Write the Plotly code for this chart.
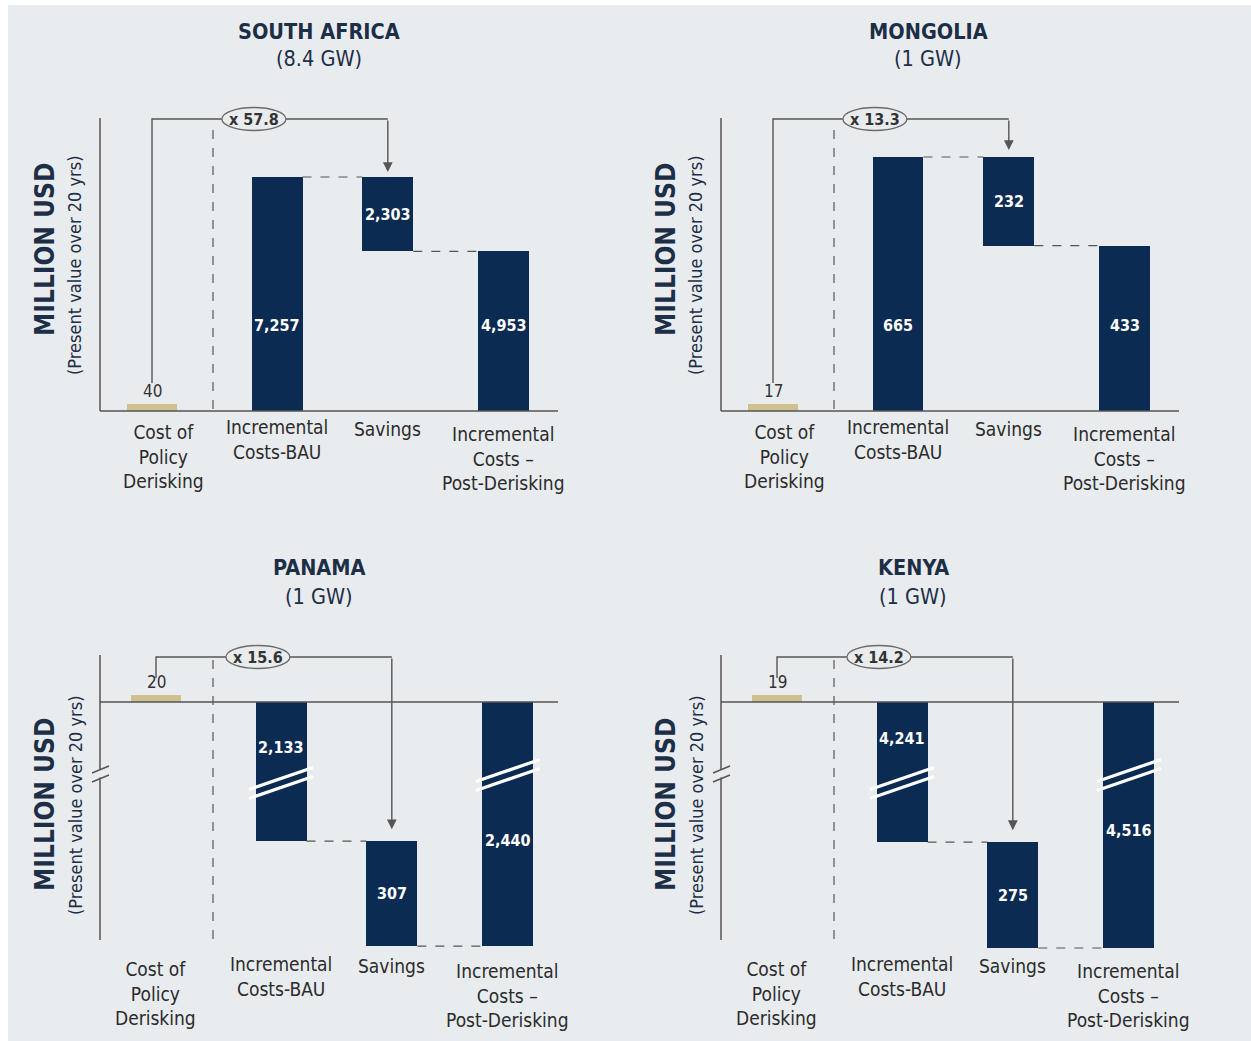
import plotly.graph_objects as go

# ---------------- data ----------------
countries = ["SOUTH AFRICA", "MONGOLIA", "PANAMA", "KENYA"]
capacities = ["(8.4 GW)", "(1 GW)", "(1 GW)", "(1 GW)"]
categories = ["Cost of<br>Policy<br>Derisking", "Incremental<br>Costs-BAU", "Savings",
              "Incremental<br>Costs –<br>Post-Derisking"]
cost_derisking = [40, 17, 20, 19]
incr_costs_bau = [7257, 665, -2133, -4241]
savings = [2303, 232, 307, 275]
incr_costs_post = [4953, 433, -2440, -4516]
multipliers = ["x 57.8", "x 13.3", "x 15.6", "x 14.2"]
axis_break = [0, 0, 1726, 3877]   # value span omitted by the broken y axis

# ---------------- style / geometry ----------------
W, H = 1251, 1041
NAVY = "#0c2b52"
TAN = "#cfc08f"
BG = "#e9ecef"
LINE = "#555555"
TXT = "#2b2b2b"
TITLE = "#1d2e47"
FONT = "Liberation Sans Narrow, Arial Narrow, DejaVu Sans Condensed, sans-serif"

UNIT = 118.5                      # px per slot unit
slot = [0, 1.055, 1.99, 2.97]     # slot positions of the 4 categories
BW = 0.43                         # bar width (slot units)


def pxx(px):
    return px / W


def pxy(py):
    return 1 - py / H


geo = [
    dict(c0=152, ax0=100, zero=411, u=7257 / 234, dom=(100, 432), axis=(118, 411), line=119,
         start=383, tx=319, ty=(32, 59), lab=(325, 325), sep=(130, 411), cat=414, cshift=11,
         ytitle=250, ysub=265, stand=5),
    dict(c0=773, ax0=721, zero=411, u=665 / 254, dom=(100, 432), axis=(118, 411), line=119,
         start=383, tx=928, ty=(32, 59), lab=(325, 325), sep=(130, 411), cat=414, cshift=11,
         ytitle=250, ysub=265, stand=7),
    dict(c0=156, ax0=100, zero=702, u=1 / 0.342, dom=(640, 962), axis=(655, 940), line=657,
         start=678, tx=319, ty=(567, 596), lab=(747, 840), sep=(660, 940), cat=951, cshift=-1,
         ytitle=805, ysub=805, stand=12),
    dict(c0=777, ax0=721, zero=702, u=1 / 0.385, dom=(640, 962), axis=(655, 940), line=657,
         start=678, tx=913, ty=(567, 596), lab=(738, 830), sep=(660, 940), cat=951, cshift=-1,
         ytitle=805, ysub=805, stand=12),
]
cat_offsets = [5, 0, 2, 7]

fig = go.Figure()
shapes = []
annotations = []
layout_axes = {}

# page background panel
shapes.append(dict(type="rect", xref="paper", yref="paper", x0=pxx(8), x1=1, y0=0, y1=pxy(5),
                   fillcolor=BG, line=dict(width=0), layer="below"))


def paper_text(x, y, text, size, color, angle=0):
    annotations.append(dict(x=pxx(x), y=pxy(y), xref="paper", yref="paper", xanchor="center",
                            yanchor="middle", text=text, textangle=angle, showarrow=False,
                            font=dict(family=FONT, size=size, color=color)))


for i in range(4):
    g = geo[i]
    n = i + 1
    xa = "x" if n == 1 else f"x{n}"
    ya = "y" if n == 1 else f"y{n}"
    ys = f"y{n + 4}"
    cut = axis_break[i]
    u = g["u"]

    def disp(v, cut=cut):
        if cut == 0:
            return v
        return (abs(v) - cut) * (1 if v > 0 else -1)

    def ydat(py, g=g, u=u):
        return (g["zero"] - py) * u

    bau_d = disp(incr_costs_bau[i])
    post_d = disp(incr_costs_post[i])

    # main bars
    fig.add_trace(go.Bar(
        x=[slot[1], slot[2], slot[3]],
        y=[bau_d, post_d - bau_d, post_d],
        base=[0, bau_d, 0],
        width=BW, marker=dict(color=NAVY, line=dict(width=0)),
        xaxis=xa, yaxis=ya, showlegend=False, hoverinfo="skip"))
    # cost of derisking bar on its own (magnified) scale
    fig.add_trace(go.Bar(
        x=[slot[0]], y=[cost_derisking[i]], width=BW,
        marker=dict(color=TAN, line=dict(width=0)),
        xaxis=xa, yaxis=ys, showlegend=False, hoverinfo="skip"))

    # arrow path
    fig.add_trace(go.Scatter(
        x=[slot[0], slot[0], slot[2]],
        y=[ydat(g["start"]), ydat(g["line"]), ydat(g["line"])],
        mode="lines", line=dict(color=LINE, width=1.4),
        xaxis=xa, yaxis=ya, showlegend=False, hoverinfo="skip"))

    # axes
    d0, d1 = g["dom"]
    layout_axes["xaxis" if n == 1 else f"xaxis{n}"] = dict(
        domain=[pxx(g["c0"] - 62), pxx(g["c0"] + 420)], range=[-62 / UNIT, 420 / UNIT],
        visible=False, anchor=ya, fixedrange=True)
    layout_axes["yaxis" if n == 1 else f"yaxis{n}"] = dict(
        domain=[pxy(d1), pxy(d0)], range=[ydat(d1), ydat(d0)],
        visible=False, anchor=xa, fixedrange=True)
    u2 = cost_derisking[i] / 7.5
    layout_axes[f"yaxis{n + 4}"] = dict(
        overlaying=ya, range=[(g["zero"] - d1) * u2, (g["zero"] - d0) * u2],
        visible=False, anchor=xa, fixedrange=True)

    # axis lines
    a0, a1 = g["axis"]
    if cut == 0:
        shapes.append(dict(type="line", xref="paper", yref="paper", x0=pxx(g["ax0"]), x1=pxx(g["ax0"]),
                           y0=pxy(a0), y1=pxy(a1), line=dict(color=LINE, width=1.5)))
    else:
        shapes.append(dict(type="line", xref="paper", yref="paper", x0=pxx(g["ax0"]), x1=pxx(g["ax0"]),
                           y0=pxy(a0), y1=pxy(769.5), line=dict(color=LINE, width=1.5)))
        shapes.append(dict(type="line", xref="paper", yref="paper", x0=pxx(g["ax0"]), x1=pxx(g["ax0"]),
                           y0=pxy(777.5), y1=pxy(a1), line=dict(color=LINE, width=1.5)))
        for off in (0, 9):
            shapes.append(dict(type="line", xref="paper", yref="paper",
                               x0=pxx(g["ax0"] - 8), x1=pxx(g["ax0"] + 9),
                               y0=pxy(773 + off), y1=pxy(766 + off), line=dict(color=LINE, width=1.5)))
        # break slashes across the long bars
        for k, cy in ((1, 783), (3, 775)):
            cx = g["c0"] + slot[k] * UNIT
            for off in (-4.5, 4.5):
                shapes.append(dict(type="line", xref="paper", yref="paper",
                                   x0=pxx(cx - 32), x1=pxx(cx + 32),
                                   y0=pxy(cy + 11 + off), y1=pxy(cy - 11 + off),
                                   line=dict(color="white", width=3.2), layer="above"))
    shapes.append(dict(type="line", xref="paper", yref="paper", x0=pxx(g["ax0"]), x1=pxx(g["ax0"] + 458),
                       y0=pxy(g["zero"]), y1=pxy(g["zero"]), line=dict(color=LINE, width=1.5)))

    # dashed separator
    sx = g["ax0"] + 113
    shapes.append(dict(type="line", xref="paper", yref="paper", x0=pxx(sx), x1=pxx(sx),
                       y0=pxy(g["sep"][0]), y1=pxy(g["sep"][1]),
                       line=dict(color=LINE, width=1.2, dash="dash")))

    # dashed connectors between bars
    for yv, xl, xr in ((bau_d, slot[1] + BW / 2, slot[2] - BW / 2),
                       (post_d, slot[2] + BW / 2, slot[3] - BW / 2)):
        shapes.append(dict(type="line", xref=xa, yref=ya, x0=xl, x1=xr, y0=yv, y1=yv,
                           line=dict(color=LINE, width=1.2, dash="dash")))

    # oval with multiplier
    shapes.append(dict(type="circle", xref=xa, yref=ya, xsizemode="pixel", ysizemode="pixel",
                       xanchor=0.86, yanchor=ydat(g["line"]), x0=-32, x1=32, y0=-11.5, y1=11.5,
                       fillcolor=BG, line=dict(color="#6a6a6a", width=1.3), layer="above"))
    annotations.append(dict(x=0.86, y=ydat(g["line"]), xref=xa, yref=ya, text=f"<b>{multipliers[i]}</b>",
                            showarrow=False, font=dict(family=FONT, size=16, color="#333333")))

    # arrow head segment
    annotations.append(dict(x=slot[2], y=bau_d, xref=xa, yref=ya, ax=slot[2], ay=ydat(g["line"]),
                            axref=xa, ayref=ya, text="", showarrow=True, arrowhead=2, arrowsize=1.4,
                            arrowwidth=1.4, arrowcolor=LINE, standoff=g["stand"]))

    # value labels
    vfont = dict(family=FONT, size=16, color="white")
    annotations.append(dict(x=slot[1], y=ydat(g["lab"][0]), xref=xa, yref=ya,
                            text=f"<b>{abs(incr_costs_bau[i]):,}</b>", showarrow=False, font=vfont))
    annotations.append(dict(x=slot[2], y=(bau_d + post_d) / 2, xref=xa, yref=ya,
                            text=f"<b>{savings[i]:,}</b>", showarrow=False, font=vfont))
    annotations.append(dict(x=slot[3], y=ydat(g["lab"][1]), xref=xa, yref=ya,
                            text=f"<b>{abs(incr_costs_post[i]):,}</b>", showarrow=False, font=vfont))
    annotations.append(dict(x=slot[0], y=cost_derisking[i], xref=xa, yref=ys, yanchor="bottom", yshift=1,
                            text=f"{cost_derisking[i]}", showarrow=False,
                            font=dict(family=FONT, size=17, color="#333333")))

    # category labels
    for k, lab in enumerate(categories):
        annotations.append(dict(x=slot[k], y=pxy(g["cat"] + cat_offsets[k]), xref=xa, yref="paper",
                                yanchor="top", text=lab, showarrow=False, align="center",
                                xshift=g["cshift"] if k == 0 else 0,
                                font=dict(family=FONT, size=19, color=TXT)))

    # titles
    paper_text(g["tx"], g["ty"][0], f"<b>{countries[i]}</b>", 21.5, TITLE)
    paper_text(g["tx"], g["ty"][1], capacities[i], 21.5, TITLE)

    # y titles
    paper_text(g["ax0"] - 55, g["ytitle"], "<b>MILLION USD</b>", 26, TITLE, -90)
    paper_text(g["ax0"] - 25, g["ysub"], "(Present value over 20 yrs)", 18, TITLE, -90)

fig.update_layout(
    width=W, height=H, margin=dict(l=0, r=0, t=0, b=0),
    paper_bgcolor="white", plot_bgcolor="rgba(0,0,0,0)",
    barmode="overlay", bargap=0,
    shapes=shapes, annotations=annotations, showlegend=False,
    font=dict(family=FONT),
    **layout_axes)

fig.write_html("out.html")
